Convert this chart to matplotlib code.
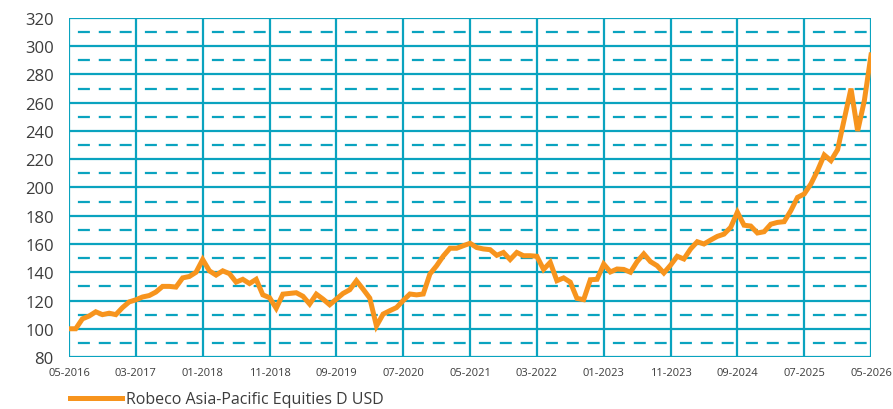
import matplotlib
matplotlib.use("Agg")
import matplotlib.pyplot as plt
import numpy as np

plt.rcParams["font.family"] = ["Open Sans", "DejaVu Sans"]

# monthly index values, 05-2016 .. 05-2026
values = [
    100, 100, 107, 109, 112, 110, 111, 110, 115, 119,
    120.5, 122.5, 123.5, 126, 130, 130, 129.5, 136, 137, 140,
    149, 141, 138, 141, 139, 133, 135, 132, 135, 124,
    122, 114.5, 124.5, 125, 125.5, 123, 117.5, 124.5, 121, 117,
    121, 125, 127.6, 134, 128, 121.7, 102, 110.4, 112.8, 115,
    120, 124.6, 124, 124.6, 138.8, 144.6, 151.5, 157, 157, 158.8,
    160.5, 157.5, 156.5, 156, 152, 154, 149, 154, 151.7, 151.7,
    151.3, 142, 147, 134, 136, 133, 121.5, 120.6, 134.7, 135,
    145.8, 140.2, 142.3, 142, 140, 147.5, 153, 147.5, 144.6, 139.5,
    145, 151.3, 149.4, 156.5, 161.6, 160, 162.8, 165.4, 167, 171.8,
    182.5, 173.3, 172.7, 167.8, 168.7, 174, 175.3, 175.8, 183.6, 193,
    195.4, 202.5, 212, 223, 219, 226.8, 248.5, 270, 240, 261.5,
    293.8,
]
tick_labels = ["05-2016", "03-2017", "01-2018", "11-2018", "09-2019", "07-2020",
               "05-2021", "03-2022", "01-2023", "11-2023", "09-2024", "07-2025",
               "05-2026"]
series_name = "Robeco Asia-Pacific Equities D USD"

grid_col = "#0aa3bf"
line_col = "#f7941d"
text_col = "#3c3c3c"

months = np.arange(len(values))
n = len(values) - 1

fig = plt.figure(figsize=(8.93, 4.10), dpi=100)
ax = fig.add_axes([0.0773, 0.1268, 0.8981, 0.8269])

# grid: solid every 20, dashed in between (restarting in each column), vertical at ticks
for v in range(80, 321, 20):
    ax.axhline(v, color=grid_col, lw=1.6, zorder=1)
for v in range(90, 320, 20):
    for m in range(0, n, 10):
        ax.plot([m, m + 10], [v, v], color=grid_col, lw=1.6,
                linestyle=(5.4, (5.4, 4.0)), zorder=1)
for m in range(0, n + 1, 10):
    ax.axvline(m, color=grid_col, lw=1.6, zorder=2)

ax.plot(months, values, color=line_col, lw=3.6, solid_joinstyle="miter",
        zorder=3, label=series_name)

ax.set_xlim(0, n)
ax.set_ylim(80, 320)
ax.set_yticks(range(80, 321, 20))
ax.set_xticks(range(0, n + 1, 10))
ax.set_xticklabels(tick_labels)
ax.tick_params(axis="y", length=0, pad=11, labelsize=12, labelcolor=text_col)
ax.tick_params(axis="x", length=0, pad=7, labelsize=8, labelcolor=text_col)
for s in ax.spines.values():
    s.set_visible(False)

fig.legend(loc="center left", bbox_to_anchor=(0.071, 0.024), frameon=False,
           fontsize=11.5, labelcolor=text_col, handlelength=3.25, handletextpad=0.3,
           borderaxespad=0)

fig.savefig("out.png", dpi=100)
